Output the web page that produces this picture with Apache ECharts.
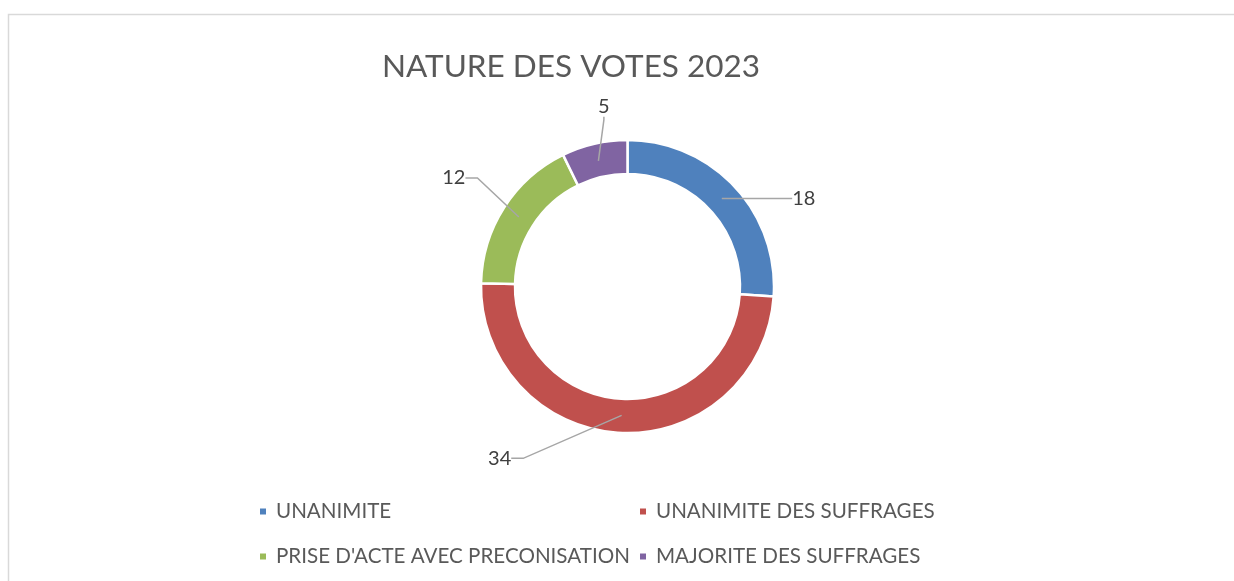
<!DOCTYPE html>
<html><head><meta charset="utf-8">
<script src="https://cdn.jsdelivr.net/npm/echarts@6/dist/echarts.min.js"></script>
<style>html,body{margin:0;padding:0;background:#fff}#chart{width:1234px;height:581px}</style>
</head><body><div id="chart"></div>
<script>
const chartTitle = 'NATURE DES VOTES 2023';
const categories = ['UNANIMITE', 'UNANIMITE DES SUFFRAGES', "PRISE D'ACTE AVEC PRECONISATION", 'MAJORITE DES SUFFRAGES'];
const values = [18, 34, 12, 5];
const colors = ['#4F81BD', '#C0504D', '#9BBB59', '#8064A2'];

const FONT = 'Lato, "Open Sans", sans-serif';
// label centre relative to the leader-line anchor (style nudges, Excel-like placement)
const labelOffsets = [[82, 0], [-122, 43], [-65, -39], [5.5, -54]];
const leaderTail = [10, 12, 12, 3];

const ringData = categories.map((c, i) => ({ name: c, value: values[i], itemStyle: { color: colors[i] } }));
const labelData = categories.map((c, i) => ({ name: c, value: values[i], labelLine: { length: 10, length2: leaderTail[i] } }));

const legendText = { fontSize: 20.6, color: '#595959', fontFamily: FONT, lineHeight: 20, padding: [0, 0, 0, 4] };

const chart = echarts.init(document.getElementById('chart'), null, { renderer: 'canvas' });
chart.setOption({
  animation: false,
  backgroundColor: '#ffffff',
  graphic: [{
    type: 'rect', silent: true, z: -10,
    shape: { x: 8.5, y: 14.5, width: 1400, height: 800 },
    style: { fill: 'none', stroke: '#d9d9d9', lineWidth: 1.5 }
  }],
  title: {
    text: chartTitle, left: 566, textAlign: 'center', top: 46,
    textStyle: { fontSize: 31.5, fontWeight: 'normal', color: '#595959', fontFamily: FONT }
  },
  legend: [
    {
      orient: 'vertical', left: 253, top: 496, itemWidth: 8, itemHeight: 8, icon: 'rect', itemGap: 24,
      data: [categories[0], categories[2]], selectedMode: false, textStyle: legendText
    },
    {
      orient: 'vertical', left: 633, top: 496, itemWidth: 8, itemHeight: 8, icon: 'rect', itemGap: 24,
      data: [categories[1], categories[3]], selectedMode: false, textStyle: legendText
    }
  ],
  series: [
    {
      type: 'pie', name: 'ring', radius: [112.5, 146.5], center: [627.5, 286.5], startAngle: 90, clockwise: true,
      silent: true, data: ringData, z: 2,
      label: { show: false }, labelLine: { show: false },
      itemStyle: { borderColor: '#ffffff', borderWidth: 2.5 },
      emphasis: { disabled: true }
    },
    {
      type: 'pie', name: 'labels', radius: [0, 129], center: [627.5, 286.5], startAngle: 90, clockwise: true,
      silent: true, data: labelData, avoidLabelOverlap: false, z: 5,
      itemStyle: { color: 'rgba(0,0,0,0)', borderWidth: 0 },
      emphasis: { disabled: true },
      label: { show: true, position: 'outside', formatter: '{c}', color: '#404040', fontSize: 20, fontFamily: FONT, padding: [2, 6] },
      labelLine: { show: true, z: 10, lineStyle: { color: '#a6a6a6', width: 1.5 } },
      labelLayout: function (p) {
        const a = p.labelLinePoints && p.labelLinePoints[0];
        if (!a) return {};
        const o = labelOffsets[p.dataIndex];
        return { x: a[0] + o[0], y: a[1] + o[1], align: 'center', verticalAlign: 'middle' };
      }
    }
  ]
});
</script></body></html>
